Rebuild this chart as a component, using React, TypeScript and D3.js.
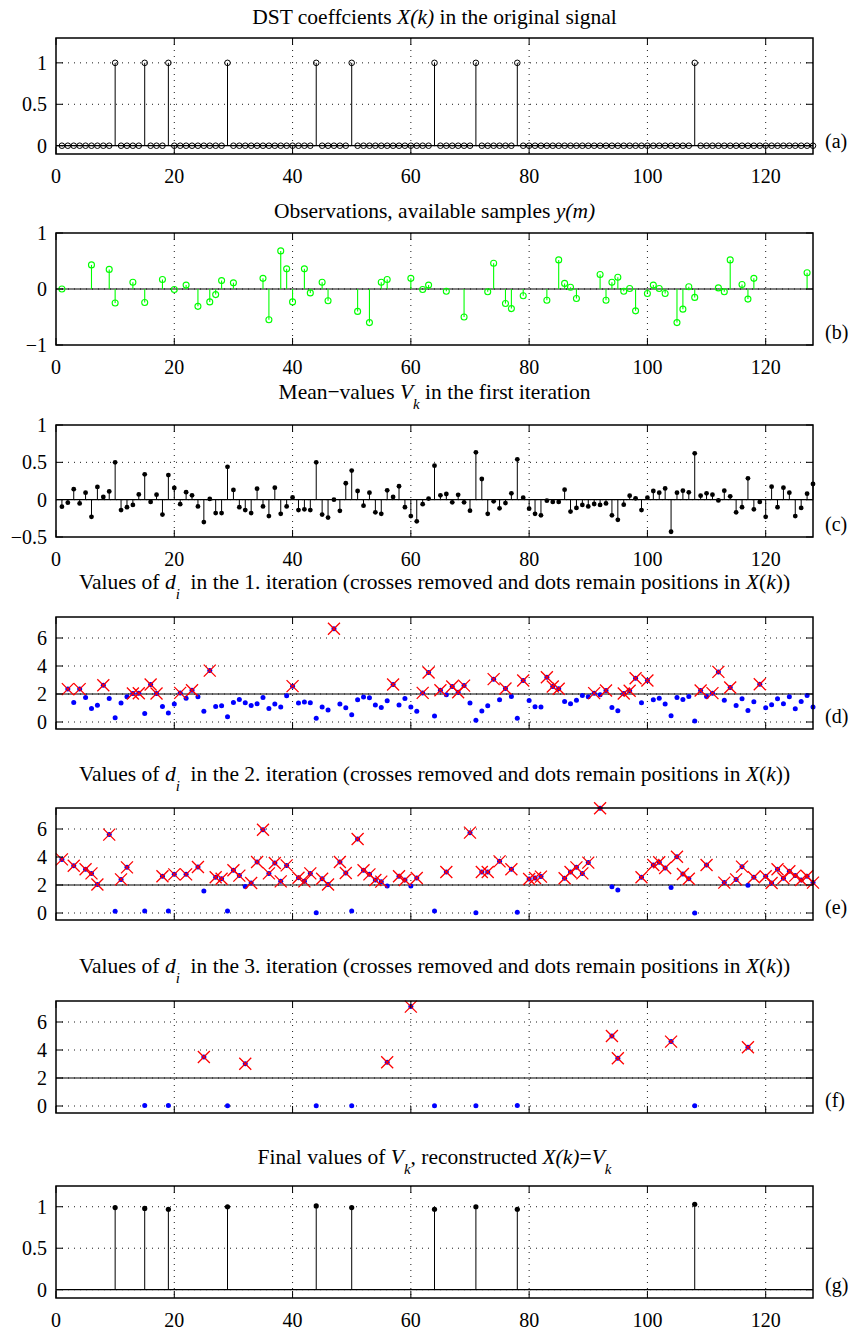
import React, { useEffect } from "react";
import * as d3 from "d3";

const WIDTH = 849;
const HEIGHT = 1330;
const PLOT_LEFT = 56;
const PLOT_RIGHT = 813;
const CENTER_X = (PLOT_LEFT + PLOT_RIGHT) / 2;
const SERIF = '"Liberation Serif", "Times New Roman", Times, serif';
const TITLE_SIZE = 21.5;
const SUB_SIZE = 15;
const SUB_SHIFT = 10;

// Shared index axis k = 1..128
const signalLength = 128;
const xDomain: [number, number] = [0, 128];
const xTickValues = [0, 20, 40, 60, 80, 100, 120];
const xTickLabels = ["0", "20", "40", "60", "80", "100", "120"];

// (a) DST coefficients X(k) of the original sparse signal
const nonzeroPositions = [10, 15, 19, 29, 44, 50, 64, 71, 78, 108];
const nonzeroValues = [1, 1, 1, 1, 1, 1, 1, 1, 1, 1];

// (b) available samples y(m)
const observedM = [
  1, 6, 9, 10, 13, 15, 18, 20, 22, 24, 26, 27, 28, 30, 35, 36, 38, 39, 40, 42,
  43, 45, 46, 51, 53, 55, 56, 60, 62, 63, 66, 69, 73, 74, 76, 77, 79, 83, 85, 86,
  87, 88, 92, 93, 94, 95, 96, 97, 98, 100, 101, 102, 103, 105, 106, 107, 108, 112, 113, 114,
  116, 117, 118, 127,
];
const observedY = [
  0, 0.43, 0.35, -0.25, 0.12, -0.24, 0.17, -0.01, 0.07, -0.31,
  -0.23, -0.1, 0.15, 0.11, 0.19, -0.55, 0.68, 0.36, -0.23, 0.36,
  -0.07, 0.12, -0.21, -0.4, -0.6, 0.12, 0.17, 0.19, -0.01, 0.07,
  -0.04, -0.5, -0.05, 0.46, -0.26, -0.35, -0.12, -0.2, 0.52, 0.1,
  0.03, -0.17, 0.26, -0.2, 0.12, 0.21, -0.04, 0.01, -0.39, -0.08,
  0.07, 0.01, -0.08, -0.6, -0.36, 0.04, -0.15, 0.02, -0.05, 0.52,
  0.08, -0.18, 0.19, 0.29,
];

// (c) mean values V_k after the first iteration, k = 1..128
const meanValues = [
  -0.094, -0.04, 0.14, -0.05, 0.094, -0.23, 0.17, 0.036, 0.11, 0.5,
  -0.14, -0.1, -0.07, 0.07, 0.34, -0.03, 0.067, -0.2, 0.33, 0.156,
  -0.06, 0.1, 0.058, -0.09, -0.3, 0.01, -0.18, -0.18, 0.44, 0.13,
  -0.1, -0.14, -0.18, 0.147, -0.09, -0.22, 0.16, -0.19, -0.09, 0.03,
  -0.14, -0.13, -0.14, 0.5, -0.2, -0.24, 0.0, -0.15, 0.22, 0.39,
  0.116, -0.08, 0.094, -0.17, -0.19, 0.125, 0.036, 0.18, -0.1, -0.22,
  -0.29, -0.06, 0.015, 0.455, 0.058, 0.076, -0.036, 0.065, -0.036, -0.147,
  0.634, 0.277, -0.19, -0.022, -0.116, -0.045, 0.085, 0.54, 0.027, -0.12,
  -0.19, -0.21, -0.013, -0.03, -0.03, 0.134, -0.16, -0.11, -0.07, -0.09,
  -0.058, -0.07, -0.05, -0.21, -0.27, -0.067, 0.054, 0.018, -0.14, 0.027,
  0.116, 0.094, 0.15, -0.43, 0.094, 0.12, 0.098, 0.62, 0.054, 0.085,
  0.067, -0.01, 0.12, 0.045, -0.17, -0.1, 0.286, -0.13, -0.03, -0.23,
  0.174, -0.1, 0.16, 0.094, -0.22, -0.11, 0.08, 0.21,
];

// (d) d_i in the first iteration, k = 1..128 (no value at k = 1)
const iter1D: (number | null)[] = [
  null, 2.35, 1.4, 2.35, 1.75, 0.97, 1.2, 2.63, 1.68, 0.3,
  1.35, 1.8, 2.03, 2.05, 0.6, 2.68, 2.03, 1.1, 0.64, 1.28,
  2.08, 1.7, 2.27, 1.8, 0.76, 3.67, 1.11, 1.16, 0.38, 1.4,
  1.61, 1.37, 1.18, 1.3, 1.75, 0.97, 1.28, 1.07, 1.87, 2.56,
  1.35, 1.42, 1.37, 0.26, 1.07, 0.85, 6.66, 1.28, 1.02, 0.52,
  1.59, 1.78, 1.73, 1.21, 1.04, 1.52, 2.68, 1.21, 1.68, 1.07,
  0.76, 2.08, 3.53, 0.43, 2.27, 1.94, 2.54, 2.12, 2.6, 1.35,
  0.12, 0.78, 1.16, 3.06, 1.59, 2.39, 1.82, 0.26, 2.96, 1.54,
  1.09, 1.07, 3.2, 2.54, 2.37, 1.47, 1.3, 1.56, 1.9, 1.8,
  2.06, 1.94, 2.25, 1.04, 0.8, 2.03, 2.23, 3.13, 1.37, 2.96,
  1.59, 1.7, 1.28, 0.45, 1.75, 1.61, 1.82, 0.07, 2.25, 1.82,
  2.06, 3.58, 1.56, 2.46, 1.18, 1.66, 0.83, 1.45, 2.7, 1.02,
  1.23, 1.66, 1.3, 1.8, 0.95, 1.47, 1.9, 1.07,
];

// (e) d_i in the second iteration (positions still in play)
const iter2K = [
  1, 3, 5, 6, 7, 9, 10, 11, 12, 15, 18, 19, 20, 22, 24, 25, 27, 28, 29, 30,
  31, 32, 33, 34, 35, 36, 37, 38, 39, 41, 42, 43, 44, 45, 46, 48, 49, 50, 51, 52,
  53, 54, 55, 56, 58, 59, 60, 61, 64, 66, 70, 71, 72, 73, 75, 77, 78, 80, 81, 82,
  86, 87, 88, 89, 90, 92, 94, 95, 99, 101, 102, 103, 104, 105, 106, 107, 108, 110, 113, 115,
  116, 117, 118, 120, 121, 122, 123, 124, 125, 126, 127, 128,
];
const iter2D = [
  3.83, 3.38, 3.12, 2.83, 2.03, 5.6, 0.12, 2.4, 3.26, 0.14, 2.62, 0.14, 2.76, 2.76, 3.29, 1.57, 2.55, 2.45, 0.14, 3.05,
  2.67, 1.9, 2.14, 3.64, 5.95, 2.83, 3.57, 2.26, 3.4, 2.52, 2.26, 2.83, 0.02, 2.45, 2.03, 3.64, 2.86, 0.14, 5.29, 3.05,
  2.76, 2.36, 2.24, 1.93, 2.62, 2.36, 1.93, 2.5, 0.14, 2.93, 5.74, 0.02, 2.93, 2.93, 3.69, 3.12, 0.05, 2.43, 2.5, 2.6,
  2.48, 2.93, 3.26, 2.83, 3.6, 7.48, 1.88, 1.64, 2.55, 3.43, 3.62, 3.21, 1.83, 4.02, 2.79, 2.45, 0.0, 3.43, 2.17, 2.4,
  3.31, 1.98, 2.55, 2.62, 2.14, 3.12, 2.48, 2.98, 2.67, 2.36, 2.62, 2.17,
];

// (f) d_i in the third iteration
const iter3K = [15, 19, 25, 29, 32, 44, 50, 56, 60, 64, 71, 78, 94, 95, 104, 108, 117];
const iter3D = [0.03, 0.04, 3.5, 0.02, 3.02, 0.02, 0.02, 3.12, 7.1, 0.02, 0.02, 0.04, 5.0, 3.41, 4.6, 0.02, 4.2];

// (g) final reconstructed values at the detected positions
const finalPositions = [10, 15, 19, 29, 44, 50, 64, 71, 78, 108];
const finalValues = [0.99, 0.98, 0.97, 1.0, 1.01, 0.99, 0.97, 1.0, 0.97, 1.03];

const threshold = 2;
const iterationNumbers = [1, 2, 3];

interface Layout {
  tag: string;
  top: number;
  bottom: number;
  domain: [number, number];
  yTicks: number[];
  yTickText: string[];
  xLabels: boolean;
  titleY: number;
}

const layouts: Record<string, Layout> = {
  a: { tag: "(a)", top: 38, bottom: 154, domain: [-0.1, 1.3], yTicks: [0, 0.5, 1], yTickText: ["0", "0.5", "1"], xLabels: true, titleY: 24 },
  b: { tag: "(b)", top: 233, bottom: 345, domain: [-1, 1], yTicks: [-1, 0, 1], yTickText: ["\u22121", "0", "1"], xLabels: true, titleY: 218 },
  c: { tag: "(c)", top: 425, bottom: 537, domain: [-0.5, 1], yTicks: [-0.5, 0, 0.5, 1], yTickText: ["\u22120.5", "0", "0.5", "1"], xLabels: true, titleY: 399 },
  d: { tag: "(d)", top: 617, bottom: 729, domain: [-0.5, 7.5], yTicks: [0, 2, 4, 6], yTickText: ["0", "2", "4", "6"], xLabels: false, titleY: 589 },
  e: { tag: "(e)", top: 808, bottom: 920, domain: [-0.5, 7.5], yTicks: [0, 2, 4, 6], yTickText: ["0", "2", "4", "6"], xLabels: false, titleY: 781 },
  f: { tag: "(f)", top: 1001, bottom: 1113, domain: [-0.5, 7.5], yTicks: [0, 2, 4, 6], yTickText: ["0", "2", "4", "6"], xLabels: false, titleY: 973 },
  g: { tag: "(g)", top: 1186, bottom: 1298, domain: [-0.1, 1.25], yTicks: [0, 0.5, 1], yTickText: ["0", "0.5", "1"], xLabels: true, titleY: 1164 },
};

const x = d3.scaleLinear().domain(xDomain).range([PLOT_LEFT, PLOT_RIGHT]);
const yScale = (L: Layout) => d3.scaleLinear().domain(L.domain).range([L.bottom, L.top]);

const TICK_LEN = 7;

function Frame({ L, children }: { L: Layout; children: React.ReactNode }) {
  const y = yScale(L);
  const innerX = xTickValues.filter((t) => t > xDomain[0] && t < xDomain[1]);
  const innerY = L.yTicks.filter((t) => t > L.domain[0] && t < L.domain[1]);
  return (
    <g>
      {innerX.map((t) => (
        <line key={"gx" + t} x1={x(t)} x2={x(t)} y1={L.top} y2={L.bottom} stroke="#000" strokeWidth={0.9} strokeDasharray="1 5" />
      ))}
      {innerY.map((t) => (
        <line key={"gy" + t} x1={PLOT_LEFT} x2={PLOT_RIGHT} y1={y(t)} y2={y(t)} stroke="#000" strokeWidth={0.9} strokeDasharray="1 5" />
      ))}
      {children}
      <rect x={PLOT_LEFT} y={L.top} width={PLOT_RIGHT - PLOT_LEFT} height={L.bottom - L.top} fill="none" stroke="#000" strokeWidth={1.5} />
      {xTickValues.map((t) => (
        <g key={"tx" + t}>
          <line x1={x(t)} x2={x(t)} y1={L.bottom} y2={L.bottom - TICK_LEN} stroke="#000" strokeWidth={1} />
          <line x1={x(t)} x2={x(t)} y1={L.top} y2={L.top + TICK_LEN} stroke="#000" strokeWidth={1} />
        </g>
      ))}
      {L.yTicks.map((t) => (
        <g key={"ty" + t}>
          <line x1={PLOT_LEFT} x2={PLOT_LEFT + TICK_LEN} y1={y(t)} y2={y(t)} stroke="#000" strokeWidth={1} />
          <line x1={PLOT_RIGHT} x2={PLOT_RIGHT - TICK_LEN} y1={y(t)} y2={y(t)} stroke="#000" strokeWidth={1} />
        </g>
      ))}
      {L.yTicks.map((t, i) => (
        <text key={"ly" + t} x={PLOT_LEFT - 9} y={y(t) + 7} textAnchor="end" fontSize={20} fontFamily={SERIF}>
          {L.yTickText[i]}
        </text>
      ))}
      {L.xLabels &&
        xTickValues.map((t, i) => (
          <text key={"lx" + t} x={x(t)} y={L.bottom + 29} textAnchor="middle" fontSize={20} fontFamily={SERIF}>
            {xTickLabels[i]}
          </text>
        ))}
      <text x={PLOT_RIGHT + 12} y={L.bottom - 6} fontSize={20} fontFamily={SERIF}>
        {L.tag}
      </text>
    </g>
  );
}

function Baseline({ L, value }: { L: Layout; value: number }) {
  const y = yScale(L);
  return <line x1={PLOT_LEFT} x2={PLOT_RIGHT} y1={y(value)} y2={y(value)} stroke="#000" strokeWidth={1.2} />;
}

function IterationTitle({ y, nth }: { y: number; nth: number }) {
  return (
    <text x={CENTER_X} y={y} textAnchor="middle" fontSize={TITLE_SIZE} fontFamily={SERIF} style={{ whiteSpace: "pre" }}>
      <tspan>{"Values of "}</tspan>
      <tspan fontStyle="italic">d</tspan>
      <tspan fontStyle="italic" fontSize={SUB_SIZE} dy={SUB_SHIFT}>i</tspan>
      <tspan dy={-SUB_SHIFT}>{`  in the ${nth}. iteration (crosses removed and dots remain positions in `}</tspan>
      <tspan fontStyle="italic">X</tspan>
      <tspan>(</tspan>
      <tspan fontStyle="italic">k</tspan>
      <tspan>))</tspan>
    </text>
  );
}

function IterationPanel({ L, ks, ds }: { L: Layout; ks: number[]; ds: (number | null)[] }) {
  const y = yScale(L);
  const pts = ks
    .map((k, i) => ({ k, d: ds[i] }))
    .filter((p) => p.d !== null && p.d !== undefined) as { k: number; d: number }[];
  const s = 6;
  return (
    <Frame L={L}>
      <Baseline L={L} value={threshold} />
      {pts.map((p) => (
        <circle key={"dot" + p.k} cx={x(p.k)} cy={y(p.d)} r={2.5} fill="#0000ff" />
      ))}
      {pts
        .filter((p) => p.d > threshold)
        .map((p) => {
          const cx = x(p.k);
          const cy = y(p.d);
          return (
            <path
              key={"x" + p.k}
              d={`M${cx - s},${cy - s}L${cx + s},${cy + s}M${cx - s},${cy + s}L${cx + s},${cy - s}`}
              stroke="#ff0000"
              strokeWidth={1.3}
              fill="none"
            />
          );
        })}
    </Frame>
  );
}

export default function App() {
  useEffect(() => {
    document.body.style.margin = "0";
  }, []);

  const ya = yScale(layouts.a);
  const yb = yScale(layouts.b);
  const yc = yScale(layouts.c);
  const yg = yScale(layouts.g);

  const allK = d3.range(1, signalLength + 1);
  const original = allK.map((k) => {
    const idx = nonzeroPositions.indexOf(k);
    return { k, v: idx >= 0 ? nonzeroValues[idx] : 0 };
  });
  const observed = observedM.map((m, i) => ({ k: m, v: observedY[i] }));
  const means = meanValues.map((v, i) => ({ k: allK[i], v }));
  const finals = finalPositions.map((k, i) => ({ k, v: finalValues[i] }));

  return (
    <svg
      width={WIDTH}
      height={HEIGHT}
      viewBox={`0 0 ${WIDTH} ${HEIGHT}`}
      style={{ display: "block", position: "absolute", left: 0, top: 0, background: "#fff" }}
    >
      <rect width={WIDTH} height={HEIGHT} fill="#fff" />

      {/* (a) original coefficients */}
      <text x={CENTER_X} y={layouts.a.titleY} textAnchor="middle" fontSize={TITLE_SIZE} fontFamily={SERIF} style={{ whiteSpace: "pre" }}>
        <tspan>{"DST coeffcients "}</tspan>
        <tspan fontStyle="italic">X(k)</tspan>
        <tspan>{" in the original signal"}</tspan>
      </text>
      <Frame L={layouts.a}>
        <Baseline L={layouts.a} value={0} />
        {original.map((p) => (
          <g key={"a" + p.k}>
            {p.v !== 0 && <line x1={x(p.k)} x2={x(p.k)} y1={ya(0)} y2={ya(p.v)} stroke="#000" strokeWidth={1} />}
            <circle cx={x(p.k)} cy={ya(p.v)} r={2.8} fill="none" stroke="#000" strokeWidth={1} />
          </g>
        ))}
      </Frame>

      {/* (b) available samples */}
      <text x={CENTER_X} y={layouts.b.titleY} textAnchor="middle" fontSize={TITLE_SIZE} fontFamily={SERIF} style={{ whiteSpace: "pre" }}>
        <tspan>{"Observations, available samples "}</tspan>
        <tspan fontStyle="italic">y(m)</tspan>
      </text>
      <Frame L={layouts.b}>
        <Baseline L={layouts.b} value={0} />
        {observed.map((p) => (
          <g key={"b" + p.k}>
            <line x1={x(p.k)} x2={x(p.k)} y1={yb(0)} y2={yb(p.v)} stroke="#00ff00" strokeWidth={1.1} />
            <circle cx={x(p.k)} cy={yb(p.v)} r={3} fill="none" stroke="#00ff00" strokeWidth={1.1} />
          </g>
        ))}
      </Frame>

      {/* (c) mean values */}
      <text x={CENTER_X} y={layouts.c.titleY} textAnchor="middle" fontSize={TITLE_SIZE} fontFamily={SERIF} style={{ whiteSpace: "pre" }}>
        <tspan>{"Mean\u2212values "}</tspan>
        <tspan fontStyle="italic">V</tspan>
        <tspan fontStyle="italic" fontSize={SUB_SIZE} dy={SUB_SHIFT}>k</tspan>
        <tspan dy={-SUB_SHIFT}>{" in the first iteration"}</tspan>
      </text>
      <Frame L={layouts.c}>
        <Baseline L={layouts.c} value={0} />
        {means.map((p) => (
          <g key={"c" + p.k}>
            <line x1={x(p.k)} x2={x(p.k)} y1={yc(0)} y2={yc(p.v)} stroke="#000" strokeWidth={1} />
            <circle cx={x(p.k)} cy={yc(p.v)} r={2.4} fill="#000" />
          </g>
        ))}
      </Frame>

      {/* (d)-(f) iterations */}
      <IterationTitle y={layouts.d.titleY} nth={iterationNumbers[0]} />
      <IterationPanel L={layouts.d} ks={allK} ds={iter1D} />
      <IterationTitle y={layouts.e.titleY} nth={iterationNumbers[1]} />
      <IterationPanel L={layouts.e} ks={iter2K} ds={iter2D} />
      <IterationTitle y={layouts.f.titleY} nth={iterationNumbers[2]} />
      <IterationPanel L={layouts.f} ks={iter3K} ds={iter3D} />

      {/* (g) reconstruction */}
      <text x={CENTER_X} y={layouts.g.titleY} textAnchor="middle" fontSize={TITLE_SIZE} fontFamily={SERIF} style={{ whiteSpace: "pre" }}>
        <tspan>{"Final values of "}</tspan>
        <tspan fontStyle="italic">V</tspan>
        <tspan fontStyle="italic" fontSize={SUB_SIZE} dy={SUB_SHIFT}>k</tspan>
        <tspan dy={-SUB_SHIFT}>{", reconstructed "}</tspan>
        <tspan fontStyle="italic">X(k)</tspan>
        <tspan>=</tspan>
        <tspan fontStyle="italic">V</tspan>
        <tspan fontStyle="italic" fontSize={SUB_SIZE} dy={SUB_SHIFT}>k</tspan>
      </text>
      <Frame L={layouts.g}>
        <Baseline L={layouts.g} value={0} />
        {finals.map((p) => (
          <g key={"g" + p.k}>
            <line x1={x(p.k)} x2={x(p.k)} y1={yg(0)} y2={yg(p.v)} stroke="#000" strokeWidth={1} />
            <circle cx={x(p.k)} cy={yg(p.v)} r={2.6} fill="#000" />
          </g>
        ))}
      </Frame>
    </svg>
  );
}
